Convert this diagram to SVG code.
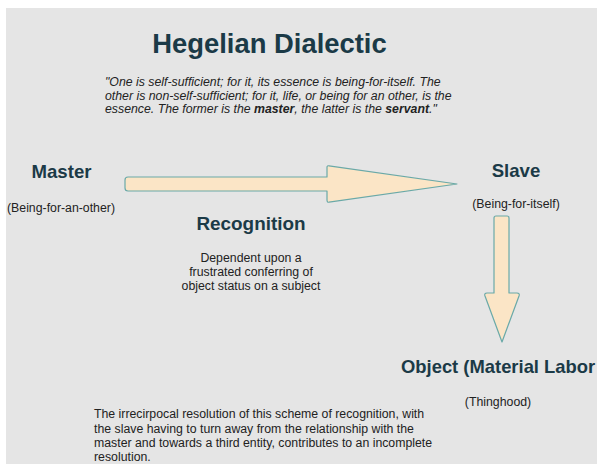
<svg xmlns="http://www.w3.org/2000/svg" width="597" height="464" viewBox="0 0 597 464">
<style>
.h{font-family:"Liberation Sans",Arial,sans-serif;font-weight:bold;fill:#1b3a47}
.t{font-family:"Liberation Sans",Arial,sans-serif;font-size:12.3px;fill:#222}
.i{font-style:italic}
.arrow{fill:#fbe5c6;stroke:#6aa9a8;stroke-width:1.2;stroke-linejoin:round}
</style>
<rect x="0" y="0" width="597" height="464" fill="#ffffff"/>
<rect x="6" y="8" width="591" height="456" fill="#e5e5e5"/>
<g id="title">
<text class="h" x="269.5" y="53" font-size="27.4" text-anchor="middle">Hegelian Dialectic</text>
</g>
<g id="quote">
<text class="t i" x="105" y="86">"One is self-sufficient; for it, its essence is being-for-itself. The</text>
<text class="t i" x="105" y="99.5">other is non-self-sufficient; for it, life, or being for an other, is the</text>
<text class="t i" x="105" y="113">essence. The former is the <tspan font-weight="bold">master</tspan>, the latter is the <tspan font-weight="bold">servant</tspan>."</text>
</g>
<g id="connectors">
<path class="arrow" d="M128,177 L327,177 L327,167 Q327,165.5 329,165.8 L457,184 L329,202.2 Q327,202.5 327,200 L327,191 L128,191 Q125,191 125,188 L125,180 Q125,177 128,177 Z"/>
<path class="arrow" d="M496,216 L507,216 Q509,216 509,218 L509,293 L517,293 Q520,293 519,296 L502,342 L485,296 Q484,293 487,293 L494,293 L494,218 Q494,216 496,216 Z"/>
</g>
<g id="master">
<text class="h" x="61.5" y="178" font-size="18.6" text-anchor="middle">Master</text>
<text class="t" x="61" y="212" text-anchor="middle">(Being-for-an-other)</text>
</g>
<g id="slave">
<text class="h" x="516" y="177" font-size="18.6" text-anchor="middle">Slave</text>
<text class="t" x="516" y="208" text-anchor="middle">(Being-for-itself)</text>
</g>
<g id="recognition">
<text class="h" x="251" y="230" font-size="18.9" text-anchor="middle">Recognition</text>
<text class="t" x="251" y="262" text-anchor="middle">Dependent upon a</text>
<text class="t" x="251" y="276" text-anchor="middle">frustrated conferring of</text>
<text class="t" x="251" y="290" text-anchor="middle">object status on a subject</text>
</g>
<g id="object">
<text class="h" x="401" y="373" font-size="18.4">Object (Material Labor</text>
<text class="t" x="498" y="406" font-size="11" text-anchor="middle">(Thinghood)</text>
</g>
<g id="note">
<text class="t" x="94" y="418">The irrecirpocal resolution of this scheme of recognition, with</text>
<text class="t" x="94" y="432.5">the slave having to turn away from the relationship with the</text>
<text class="t" x="94" y="447">master and towards a third entity, contributes to an incomplete</text>
<text class="t" x="94" y="461">resolution.</text>
</g>
</svg>
